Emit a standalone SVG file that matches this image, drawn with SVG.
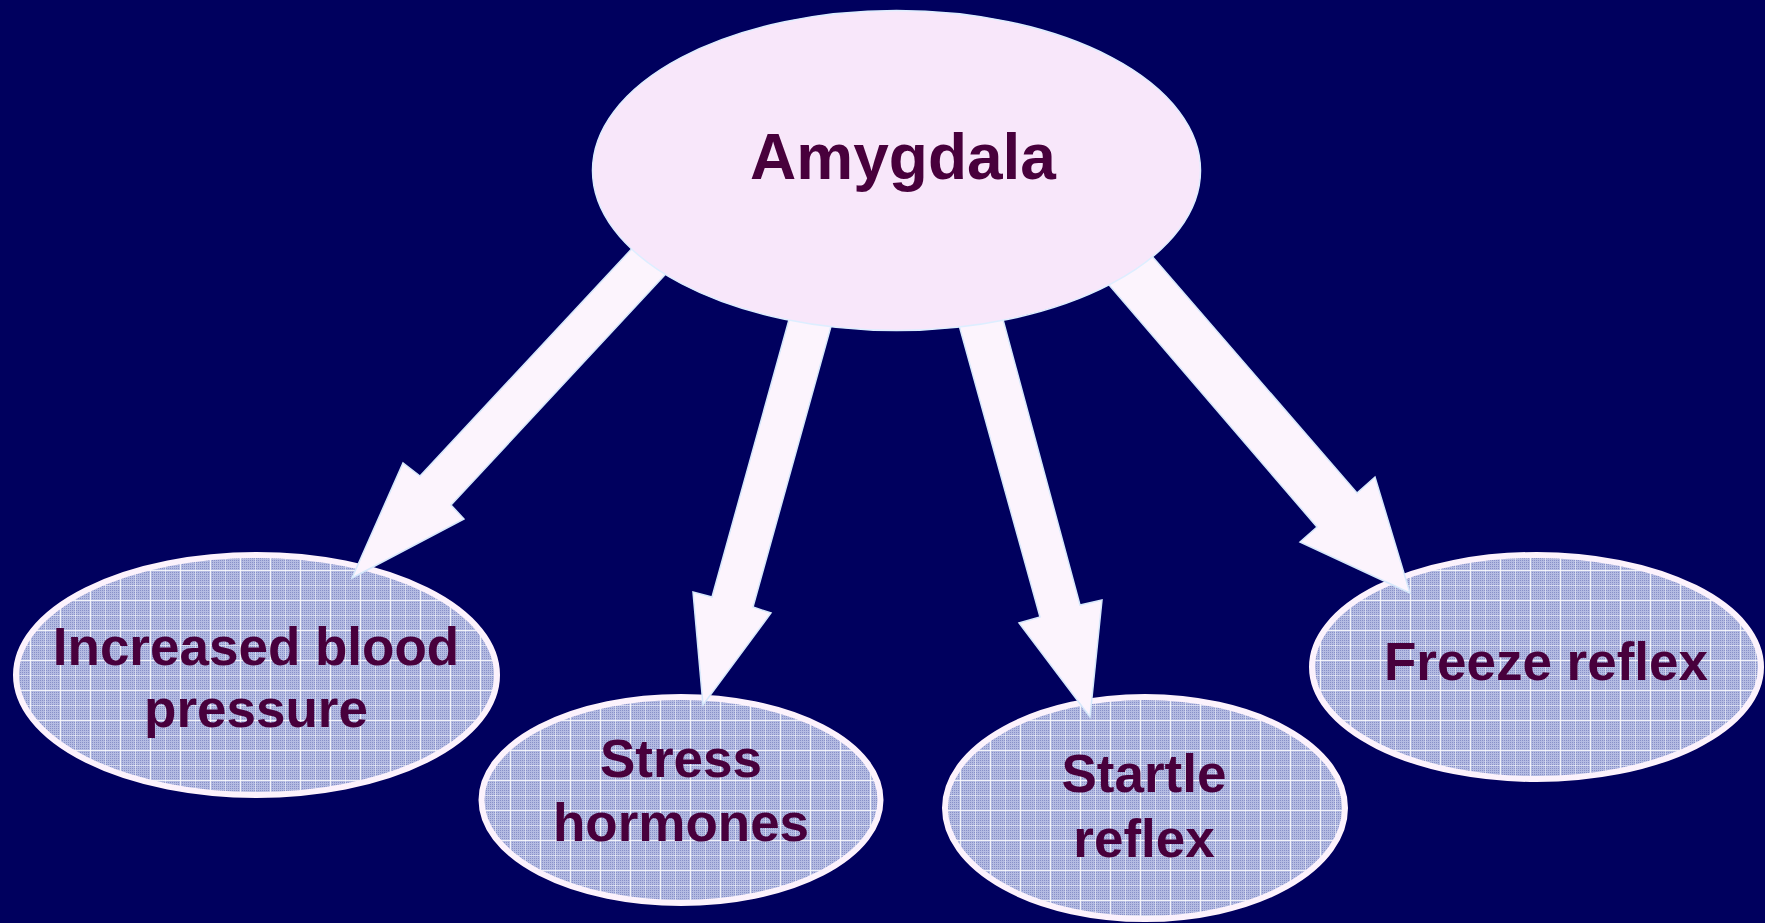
<svg xmlns="http://www.w3.org/2000/svg" width="1765" height="923" viewBox="0 0 1765 923">
  <defs>
    <pattern id="dots" x="0" y="0" width="2" height="2" patternUnits="userSpaceOnUse">
      <rect width="2" height="2" fill="#b4bbe2"/>
      <rect width="1" height="1" fill="#8890c8"/>
    </pattern>
    <pattern id="grid" x="0" y="0" width="30" height="30" patternUnits="userSpaceOnUse">
      <rect width="30" height="30" fill="url(#dots)"/>
      <rect x="0" y="0" width="1" height="30" fill="#ffffff" fill-opacity="0.85"/>
      <rect x="0" y="0" width="30" height="1" fill="#ffffff" fill-opacity="0.85"/>
      <rect x="15" y="0" width="1" height="30" fill="#ffffff" fill-opacity="0.45"/>
      <rect x="0" y="15" width="30" height="1" fill="#ffffff" fill-opacity="0.45"/>
    </pattern>
    <style>
      .leaf { fill: url(#grid); stroke: #fcf2fc; stroke-width: 6; }
      .arrow { fill: #fcf4fd; stroke: #d6e8fb; stroke-width: 1.5; stroke-linejoin: miter; }
      .root { fill: #f8e7fa; stroke: #ddeeff; stroke-width: 1.5; }
      .lbl { font-family: "Liberation Sans", Arial, sans-serif; font-weight: bold; fill: #48003c; text-anchor: middle; }
    </style>
  </defs>
  <rect width="1765" height="923" fill="#00005e"/>

  <g id="node-blood-pressure">
    <ellipse class="leaf" cx="256.5" cy="675" rx="240.5" ry="120"/>
    <text class="lbl" x="256" y="665" font-size="53">Increased blood</text>
    <text class="lbl" x="256" y="727" font-size="53">pressure</text>
  </g>
  <g id="node-stress-hormones">
    <ellipse class="leaf" cx="681" cy="800" rx="199.5" ry="103"/>
    <text class="lbl" x="681" y="777" font-size="53">Stress</text>
    <text class="lbl" x="681" y="841" font-size="53">hormones</text>
  </g>
  <g id="node-startle">
    <ellipse class="leaf" cx="1145" cy="808" rx="200" ry="111"/>
    <text class="lbl" x="1144" y="792" font-size="53">Startle</text>
    <text class="lbl" x="1144" y="857" font-size="53">reflex</text>
  </g>
  <g id="node-freeze">
    <ellipse class="leaf" cx="1536.5" cy="667" rx="224.5" ry="112"/>
    <text class="lbl" x="1546" y="680" font-size="53">Freeze reflex</text>
  </g>

  <g id="connectors">
    <polygon class="arrow" points="694,182 420,476 403,463 352,578 464,519 451,505 728,207"/>
    <polygon class="arrow" points="815,226 712,597 693,592 703,705 771,613 753,607 860,222"/>
    <polygon class="arrow" points="929,217 1040,617 1019,623 1090,717 1102,600 1080,605 977,223"/>
    <polygon class="arrow" points="1049,215 1317,527 1300,542 1410,593 1375,477 1357,493 1093,188"/>
  </g>

  <g id="node-amygdala">
    <ellipse class="root" cx="896.5" cy="170.5" rx="304" ry="160"/>
    <text class="lbl" x="903" y="179" font-size="64">Amygdala</text>
  </g>
</svg>
